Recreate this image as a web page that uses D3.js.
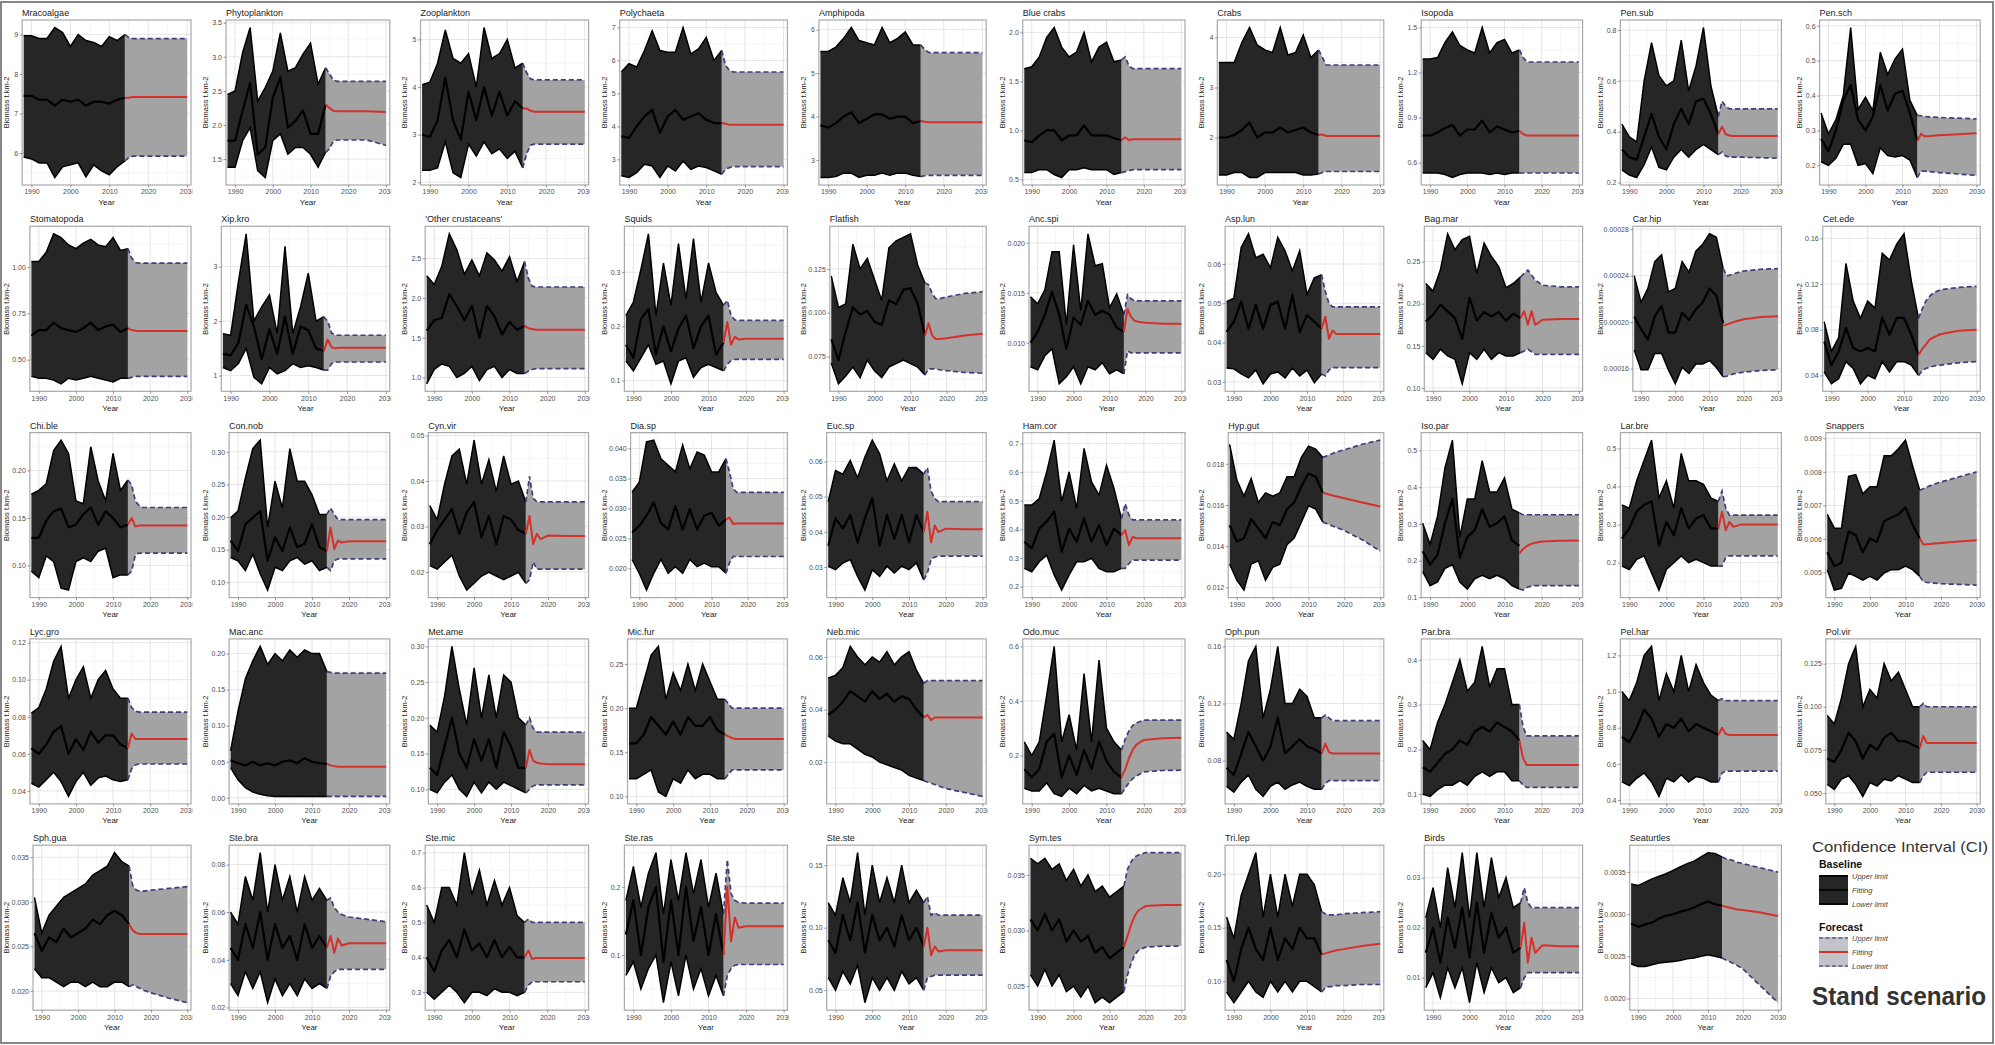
<!DOCTYPE html>
<html><head><meta charset="utf-8">
<script src="https://cdn.jsdelivr.net/npm/d3@7"></script>
<style>body{margin:0;background:#fff}svg{display:block}text{font-family:"Liberation Sans",Arial,sans-serif}</style>
</head><body><svg id="c" width="1995" height="1045"></svg>
<script>
const panelNames = ["Mracoalgae","Phytoplankton","Zooplankton","Polychaeta","Amphipoda","Blue crabs","Crabs","Isopoda","Pen.sub","Pen.sch",
"Stomatopoda","Xip.kro","'Other crustaceans'","Squids","Flatfish","Anc.spi","Asp.lun","Bag.mar","Car.hip","Cet.ede",
"Chi.ble","Con.nob","Cyn.vir","Dia.sp","Euc.sp","Ham.cor","Hyp.gut","Iso.par","Lar.bre","Snappers",
"Lyc.gro","Mac.anc","Met.ame","Mic.fur","Neb.mic","Odo.muc","Oph.pun","Par.bra","Pel.har","Pol.vir",
"Sph.gua","Ste.bra","Ste.mic","Ste.ras","Ste.ste","Sym.tes","Tri.lep","Birds","Seaturtles"];
const baseYears = [1988,1990,1992,1994,1996,1998,2000,2002,2004,2006,2008,2010,2012,2014];
const fcYears = [2014,2015,2016,2017,2018,2020,2025,2030];
const xTicks = [1990,2000,2010,2020,2030];
const yTickLabels = [
["6","7","8","9"],["1.5","2.0","2.5","3.0","3.5"],["2","3","4","5"],["3","4","5","6","7"],["3","4","5","6"],["0.5","1.0","1.5","2.0"],["1","2","3","4"],["0.6","0.9","1.2","1.5"],["0.2","0.4","0.6","0.8"],["0.2","0.3","0.4","0.5","0.6"],
["0.50","0.75","1.00"],["1","2","3"],["1.0","1.5","2.0","2.5"],["0.1","0.2","0.3"],["0.075","0.100","0.125","0.150"],["0.005","0.010","0.015","0.020"],["0.03","0.04","0.05","0.06","0.07"],["0.10","0.15","0.20","0.25"],["0.00016","0.00020","0.00024","0.00028"],["0.04","0.08","0.12","0.16"],
["0.10","0.15","0.20"],["0.10","0.15","0.20","0.25","0.30"],["0.02","0.03","0.04","0.05"],["0.015","0.020","0.025","0.030","0.035","0.040"],["0.02","0.03","0.04","0.05","0.06","0.07"],["0.2","0.3","0.4","0.5","0.6","0.7"],["0.012","0.014","0.016","0.018"],["0.1","0.2","0.3","0.4","0.5"],["0.2","0.3","0.4","0.5"],["0.004","0.005","0.006","0.007","0.008","0.009"],
["0.04","0.06","0.08","0.10","0.12"],["0.00","0.05","0.10","0.15","0.20"],["0.10","0.15","0.20","0.25","0.30"],["0.10","0.15","0.20","0.25"],["0.02","0.04","0.06"],["0.2","0.4","0.6"],["0.08","0.12","0.16"],["0.1","0.2","0.3","0.4"],["0.4","0.6","0.8","1.0","1.2"],["0.050","0.075","0.100","0.125"],
["0.020","0.025","0.030","0.035"],["0.02","0.04","0.06","0.08"],["0.3","0.4","0.5","0.6","0.7"],["0.1","0.2"],["0.05","0.10","0.15"],["0.025","0.030","0.035"],["0.10","0.15","0.20"],["0.01","0.02","0.03"],["0.0020","0.0025","0.0030","0.0035"]
];
const baseFit = [
[7.45,7.45,7.35,7.35,7.2,7.35,7.3,7.35,7.2,7.3,7.3,7.25,7.35,7.4],
[1.77,1.77,2.21,2.62,1.57,1.67,2.4,2.7,1.96,2.06,2.21,1.87,1.87,2.3],
[3.0,2.95,3.3,4.2,3.3,2.9,3.9,3.3,4.0,3.4,3.9,3.4,3.7,3.55],
[3.7,3.65,4.0,4.3,4.5,3.8,4.3,4.5,4.2,4.3,4.4,4.2,4.1,4.1],
[3.8,3.75,3.85,4.0,4.1,3.85,3.95,4.05,4.05,3.95,4.0,4.0,3.85,3.9],
[0.9,0.88,0.95,1.0,1.0,0.9,0.95,0.95,1.05,0.95,0.95,0.95,0.92,0.9],
[2.0,2.0,2.05,2.15,2.3,2.0,2.1,2.1,2.2,2.1,2.15,2.2,2.1,2.05],
[0.78,0.78,0.8,0.83,0.85,0.78,0.82,0.82,0.88,0.8,0.84,0.82,0.8,0.81],
[0.33,0.3,0.29,0.38,0.47,0.38,0.33,0.43,0.49,0.43,0.52,0.53,0.47,0.39],
[0.276,0.24,0.3,0.386,0.43,0.33,0.3,0.34,0.43,0.357,0.405,0.414,0.35,0.27],
[0.63,0.66,0.66,0.7,0.67,0.66,0.65,0.67,0.7,0.66,0.68,0.69,0.65,0.67],
[1.4,1.37,1.6,2.3,1.9,1.3,1.85,1.4,2.08,1.4,1.9,1.83,1.5,1.45],
[1.59,1.72,1.75,2.05,1.9,1.72,1.9,1.5,1.9,1.77,1.54,1.7,1.6,1.65],
[0.166,0.142,0.214,0.232,0.148,0.2,0.154,0.196,0.22,0.16,0.2,0.22,0.148,0.17],
[0.085,0.073,0.089,0.103,0.099,0.101,0.095,0.093,0.107,0.105,0.113,0.114,0.105,0.087],
[0.010,0.0111,0.0128,0.0151,0.0128,0.0094,0.0125,0.0118,0.0142,0.0128,0.0132,0.0128,0.0115,0.0111],
[0.0427,0.0453,0.0504,0.0435,0.0496,0.0435,0.0496,0.0504,0.0435,0.0522,0.0427,0.047,0.0453,0.0435],
[0.179,0.187,0.199,0.191,0.183,0.158,0.207,0.18,0.19,0.185,0.19,0.18,0.188,0.183],
[20.5e-5,19.4e-5,18.5e-5,20.5e-5,21.4e-5,19.1e-5,19.1e-5,20.8e-5,20.2e-5,21.1e-5,21.7e-5,22.9e-5,22.3e-5,19.9e-5],
[0.0696,0.049,0.061,0.0815,0.064,0.061,0.064,0.061,0.0904,0.0756,0.0904,0.0904,0.0756,0.0578],
[0.129,0.129,0.147,0.157,0.16,0.14,0.143,0.154,0.161,0.143,0.157,0.15,0.14,0.143],
[0.164,0.148,0.189,0.199,0.209,0.133,0.169,0.148,0.184,0.154,0.159,0.189,0.154,0.148],
[0.0261,0.0292,0.0315,0.0338,0.0284,0.0331,0.0354,0.0276,0.0323,0.0261,0.0323,0.0315,0.0292,0.0284],
[0.026,0.0271,0.0288,0.031,0.0276,0.0265,0.0304,0.0265,0.0299,0.0265,0.0288,0.0293,0.0271,0.0282],
[0.036,0.0438,0.0409,0.0448,0.037,0.0438,0.0496,0.036,0.0448,0.038,0.0448,0.037,0.0448,0.0399],
[0.357,0.334,0.403,0.427,0.462,0.322,0.403,0.357,0.438,0.357,0.415,0.345,0.403,0.38],
[0.01502,0.01423,0.01439,0.01533,0.01486,0.01439,0.01517,0.01502,0.0158,0.01612,0.0169,0.01753,0.01737,0.01659],
[0.226,0.189,0.217,0.302,0.368,0.208,0.264,0.283,0.34,0.292,0.302,0.321,0.255,0.24],
[0.263,0.29,0.334,0.352,0.361,0.245,0.307,0.272,0.343,0.29,0.316,0.325,0.29,0.29],
[0.0056,0.00519,0.00529,0.00622,0.00611,0.0056,0.00601,0.00591,0.00653,0.00663,0.00673,0.00694,0.00642,0.00601],
[0.063,0.06,0.065,0.072,0.075,0.06,0.068,0.062,0.072,0.066,0.07,0.07,0.065,0.063],
[0.052,0.048,0.045,0.05,0.045,0.048,0.045,0.05,0.052,0.048,0.055,0.05,0.048,0.047],
[0.13,0.12,0.16,0.2,0.15,0.13,0.17,0.14,0.17,0.13,0.18,0.16,0.13,0.13],
[0.16,0.16,0.17,0.19,0.18,0.17,0.185,0.17,0.19,0.18,0.18,0.19,0.175,0.17],
[0.038,0.04,0.043,0.047,0.045,0.043,0.047,0.044,0.046,0.043,0.045,0.044,0.04,0.037],
[0.15,0.12,0.15,0.25,0.28,0.12,0.2,0.13,0.22,0.15,0.25,0.18,0.14,0.12],
[0.075,0.07,0.085,0.1,0.09,0.08,0.09,0.11,0.085,0.09,0.095,0.09,0.088,0.085],
[0.16,0.15,0.17,0.19,0.2,0.22,0.21,0.24,0.25,0.24,0.26,0.25,0.24,0.22],
[0.75,0.72,0.8,0.9,0.85,0.75,0.82,0.8,0.85,0.78,0.82,0.8,0.78,0.76],
[0.07,0.068,0.075,0.085,0.08,0.07,0.078,0.075,0.082,0.085,0.08,0.08,0.078,0.076],
[0.0265,0.0245,0.026,0.0255,0.027,0.026,0.0265,0.027,0.028,0.0275,0.0285,0.029,0.0285,0.0275],
[0.045,0.04,0.055,0.045,0.06,0.04,0.055,0.045,0.05,0.04,0.055,0.045,0.05,0.045],
[0.4,0.36,0.42,0.45,0.4,0.48,0.42,0.44,0.4,0.45,0.4,0.43,0.4,0.4],
[0.13,0.18,0.1,0.17,0.2,0.09,0.18,0.1,0.2,0.12,0.17,0.1,0.16,0.1],
[0.09,0.08,0.11,0.09,0.12,0.08,0.11,0.09,0.1,0.085,0.11,0.09,0.1,0.085],
[0.031,0.03,0.0315,0.03,0.031,0.029,0.03,0.029,0.0295,0.028,0.0285,0.0275,0.028,0.0285],
[0.12,0.1,0.13,0.15,0.13,0.12,0.15,0.12,0.14,0.13,0.15,0.14,0.14,0.125],
[0.015,0.02,0.013,0.022,0.016,0.024,0.014,0.025,0.015,0.023,0.018,0.02,0.015,0.016],
[0.00289,0.00285,0.00288,0.0029,0.00295,0.00298,0.003,0.00303,0.00305,0.00308,0.00312,0.00315,0.00312,0.0031]
];
const baseUpper = [
[8.97,8.97,8.9,8.9,9.18,9.05,8.7,9.0,8.85,8.8,8.7,8.95,8.85,9.0],
[2.45,2.5,3.06,3.43,2.35,2.55,2.79,3.35,2.79,2.84,3.04,3.2,2.6,2.84],
[4.05,4.1,4.5,5.2,4.6,4.5,4.7,4.0,5.25,4.6,4.7,5.0,4.4,4.5],
[5.65,5.9,5.8,6.3,6.9,6.3,6.25,6.25,7.0,6.2,6.35,6.7,6.0,6.3],
[5.5,5.5,5.6,5.8,6.05,5.75,5.7,5.65,6.05,5.7,5.8,5.95,5.65,5.65],
[1.63,1.65,1.75,1.95,2.05,1.85,1.75,1.8,2.0,1.7,1.85,1.9,1.7,1.72],
[3.5,3.5,3.5,3.9,4.2,3.85,3.75,3.7,4.2,3.65,3.7,4.05,3.6,3.75],
[1.29,1.29,1.3,1.4,1.47,1.38,1.35,1.33,1.5,1.33,1.4,1.42,1.33,1.35],
[0.43,0.38,0.36,0.6,0.75,0.62,0.58,0.6,0.76,0.56,0.66,0.81,0.58,0.46],
[0.35,0.29,0.33,0.4,0.595,0.36,0.395,0.357,0.524,0.46,0.505,0.533,0.386,0.343],
[1.03,1.03,1.08,1.18,1.16,1.12,1.1,1.13,1.15,1.12,1.11,1.16,1.09,1.1],
[1.77,1.74,2.72,3.6,2.0,2.26,2.48,1.77,3.37,1.77,2.26,2.88,2.0,2.08],
[2.28,2.17,2.4,2.81,2.61,2.3,2.48,2.28,2.57,2.48,2.34,2.52,2.21,2.46],
[0.22,0.245,0.305,0.371,0.22,0.317,0.239,0.353,0.25,0.362,0.245,0.317,0.263,0.239],
[0.121,0.103,0.105,0.139,0.125,0.131,0.119,0.107,0.137,0.141,0.143,0.145,0.127,0.117],
[0.0146,0.0139,0.0153,0.0191,0.0191,0.0118,0.0198,0.0132,0.0209,0.0177,0.0179,0.0135,0.0149,0.0128],
[0.0504,0.0513,0.0642,0.0677,0.0616,0.0625,0.059,0.0668,0.0634,0.0582,0.0634,0.0522,0.0565,0.0573],
[0.224,0.215,0.24,0.283,0.264,0.276,0.28,0.236,0.272,0.256,0.244,0.219,0.224,0.232],
[24.0e-5,21.7e-5,22.9e-5,25.2e-5,25.8e-5,22.6e-5,22.9e-5,25.2e-5,24.3e-5,26.1e-5,26.7e-5,27.6e-5,27.3e-5,24.6e-5],
[0.087,0.061,0.073,0.138,0.105,0.09,0.105,0.099,0.147,0.141,0.155,0.164,0.123,0.09],
[0.175,0.179,0.186,0.221,0.232,0.218,0.168,0.165,0.225,0.189,0.168,0.218,0.179,0.19],
[0.199,0.209,0.26,0.305,0.318,0.184,0.255,0.214,0.305,0.255,0.255,0.234,0.204,0.204],
[0.0346,0.0315,0.0393,0.0455,0.047,0.0393,0.049,0.0393,0.0447,0.0377,0.0455,0.0393,0.04,0.0354],
[0.0327,0.0344,0.0411,0.0414,0.0383,0.0372,0.0361,0.0406,0.0366,0.0394,0.0389,0.0361,0.0361,0.0383],
[0.0486,0.0574,0.0564,0.0603,0.0554,0.0613,0.0661,0.0622,0.0545,0.0593,0.0545,0.0583,0.0583,0.0564],
[0.485,0.485,0.508,0.601,0.712,0.497,0.601,0.473,0.683,0.566,0.52,0.624,0.543,0.438],
[0.01894,0.01721,0.01643,0.01729,0.01612,0.01659,0.01643,0.01659,0.01737,0.01737,0.01831,0.01886,0.01871,0.01831],
[0.302,0.245,0.321,0.453,0.528,0.264,0.368,0.368,0.472,0.387,0.387,0.425,0.34,0.33],
[0.352,0.343,0.415,0.469,0.522,0.37,0.415,0.343,0.487,0.415,0.415,0.406,0.37,0.361],
[0.00673,0.00632,0.00632,0.00787,0.00792,0.00735,0.00756,0.00756,0.00848,0.00848,0.00869,0.00895,0.00818,0.00745],
[0.082,0.085,0.095,0.11,0.118,0.09,0.1,0.107,0.09,0.1,0.105,0.095,0.09,0.09],
[0.065,0.12,0.165,0.19,0.21,0.185,0.2,0.19,0.205,0.195,0.205,0.2,0.2,0.175],
[0.19,0.18,0.23,0.3,0.24,0.19,0.27,0.2,0.26,0.2,0.26,0.25,0.2,0.19],
[0.2,0.2,0.23,0.26,0.27,0.21,0.24,0.22,0.25,0.22,0.25,0.23,0.21,0.21],
[0.052,0.053,0.056,0.064,0.06,0.057,0.06,0.058,0.062,0.057,0.06,0.062,0.055,0.05],
[0.25,0.2,0.25,0.42,0.6,0.25,0.35,0.22,0.5,0.25,0.55,0.3,0.25,0.22],
[0.1,0.095,0.12,0.15,0.16,0.11,0.13,0.16,0.12,0.12,0.13,0.125,0.11,0.11],
[0.22,0.2,0.26,0.3,0.35,0.4,0.33,0.35,0.43,0.34,0.38,0.38,0.3,0.3],
[1.0,0.95,1.05,1.2,1.25,0.95,1.1,1.0,1.2,1.0,1.15,1.05,0.98,0.95],
[0.095,0.09,0.105,0.125,0.135,0.1,0.11,0.105,0.125,0.115,0.12,0.11,0.1,0.1],
[0.0305,0.0265,0.0285,0.0295,0.0305,0.031,0.0315,0.032,0.033,0.0335,0.034,0.0355,0.0345,0.034],
[0.06,0.055,0.075,0.065,0.085,0.06,0.08,0.065,0.075,0.06,0.075,0.065,0.07,0.065],
[0.55,0.5,0.6,0.6,0.55,0.7,0.58,0.65,0.55,0.62,0.55,0.6,0.52,0.5],
[0.18,0.23,0.17,0.22,0.25,0.16,0.24,0.18,0.25,0.19,0.24,0.17,0.22,0.16],
[0.12,0.11,0.14,0.12,0.16,0.11,0.15,0.12,0.14,0.12,0.15,0.12,0.13,0.12],
[0.0365,0.036,0.0365,0.0355,0.036,0.0345,0.0355,0.034,0.035,0.0335,0.034,0.033,0.0335,0.034],
[0.16,0.14,0.18,0.2,0.22,0.16,0.2,0.16,0.2,0.17,0.2,0.2,0.19,0.165],
[0.022,0.028,0.02,0.032,0.024,0.035,0.022,0.035,0.024,0.034,0.026,0.03,0.024,0.025],
[0.00336,0.00334,0.00338,0.00342,0.00345,0.00348,0.00352,0.00356,0.0036,0.00363,0.00368,0.00373,0.00372,0.00368]
];
const baseLower = [
[5.9,5.85,5.75,5.75,5.38,5.65,5.7,5.75,5.4,5.7,5.55,5.45,5.65,5.8],
[1.38,1.38,1.77,1.96,1.33,1.23,1.77,1.87,1.57,1.67,1.67,1.57,1.38,1.6],
[2.25,2.25,2.3,2.85,2.2,2.1,2.8,2.55,2.85,2.6,2.7,2.5,2.65,2.3],
[2.5,2.45,2.6,2.85,2.8,2.45,2.8,2.65,2.95,2.7,2.8,2.75,2.65,2.55],
[2.6,2.6,2.62,2.7,2.7,2.6,2.65,2.65,2.7,2.65,2.7,2.7,2.65,2.62],
[0.57,0.57,0.6,0.6,0.55,0.52,0.6,0.6,0.62,0.6,0.6,0.6,0.55,0.57],
[1.25,1.25,1.3,1.3,1.2,1.2,1.3,1.3,1.3,1.3,1.3,1.25,1.25,1.27],
[0.53,0.53,0.53,0.52,0.5,0.52,0.53,0.53,0.53,0.52,0.53,0.52,0.53,0.53],
[0.25,0.23,0.22,0.27,0.34,0.26,0.25,0.3,0.33,0.3,0.33,0.35,0.33,0.31],
[0.21,0.2,0.22,0.26,0.26,0.2,0.205,0.176,0.25,0.228,0.224,0.228,0.215,0.165],
[0.41,0.4,0.4,0.39,0.37,0.4,0.39,0.4,0.41,0.4,0.39,0.38,0.4,0.4],
[1.15,1.09,1.22,1.5,0.97,0.85,1.15,1.03,1.09,1.22,1.15,1.18,1.15,1.1],
[0.92,1.1,1.17,1.14,1.0,1.05,1.14,0.96,1.1,1.14,1.0,1.1,1.05,1.05],
[0.136,0.118,0.142,0.166,0.13,0.136,0.094,0.136,0.142,0.106,0.124,0.13,0.124,0.118],
[0.0714,0.0595,0.064,0.069,0.063,0.073,0.067,0.063,0.069,0.071,0.073,0.071,0.069,0.0645],
[0.0076,0.0073,0.0087,0.0094,0.0059,0.0066,0.0076,0.0059,0.0076,0.0073,0.008,0.0069,0.0073,0.0069],
[0.0335,0.0333,0.032,0.031,0.033,0.0295,0.032,0.0325,0.031,0.0335,0.0315,0.033,0.0298,0.032],
[0.142,0.134,0.146,0.138,0.134,0.105,0.142,0.134,0.146,0.134,0.142,0.138,0.138,0.142],
[17.6e-5,15.9e-5,15.9e-5,17.3e-5,17.3e-5,15.9e-5,14.7e-5,16.1e-5,15.6e-5,16.4e-5,16.4e-5,16.7e-5,16.1e-5,15.3e-5],
[0.043,0.0326,0.037,0.052,0.046,0.0326,0.04,0.037,0.052,0.043,0.052,0.052,0.049,0.04],
[0.094,0.087,0.11,0.104,0.076,0.074,0.104,0.108,0.104,0.115,0.118,0.087,0.09,0.09],
[0.138,0.133,0.118,0.143,0.113,0.088,0.123,0.118,0.133,0.138,0.128,0.133,0.118,0.123],
[0.0214,0.0206,0.0222,0.0237,0.0191,0.016,0.0175,0.0191,0.0199,0.0191,0.0183,0.0191,0.0199,0.0175],
[0.0215,0.0192,0.0164,0.0192,0.0215,0.0192,0.0203,0.0192,0.0215,0.0203,0.0209,0.0203,0.0203,0.0192],
[0.0302,0.0292,0.0311,0.0321,0.0273,0.0234,0.0292,0.0273,0.0302,0.0283,0.0302,0.0292,0.0311,0.0263],
[0.264,0.252,0.287,0.31,0.241,0.188,0.241,0.287,0.287,0.299,0.264,0.252,0.252,0.264],
[0.01313,0.01235,0.01187,0.01313,0.01329,0.01235,0.01297,0.01313,0.01407,0.01439,0.01517,0.01596,0.0158,0.01517],
[0.17,0.132,0.142,0.179,0.189,0.142,0.123,0.151,0.16,0.151,0.16,0.151,0.132,0.123],
[0.191,0.182,0.209,0.218,0.173,0.128,0.182,0.2,0.218,0.2,0.209,0.2,0.191,0.191],
[0.00508,0.00447,0.00452,0.00498,0.00488,0.00477,0.00488,0.00477,0.00498,0.00508,0.00508,0.00519,0.00508,0.00488],
[0.044,0.042,0.046,0.05,0.045,0.037,0.045,0.05,0.043,0.047,0.048,0.046,0.045,0.046],
[0.042,0.025,0.014,0.008,0.005,0.003,0.002,0.002,0.002,0.002,0.002,0.002,0.002,0.002],
[0.1,0.095,0.11,0.12,0.1,0.09,0.11,0.095,0.11,0.1,0.11,0.105,0.1,0.095],
[0.12,0.12,0.125,0.13,0.105,0.1,0.12,0.115,0.13,0.12,0.125,0.125,0.12,0.12],
[0.03,0.028,0.027,0.027,0.025,0.023,0.022,0.02,0.019,0.018,0.017,0.015,0.014,0.013],
[0.08,0.07,0.07,0.1,0.06,0.05,0.08,0.06,0.09,0.07,0.08,0.07,0.06,0.06],
[0.062,0.058,0.065,0.07,0.06,0.055,0.062,0.065,0.06,0.063,0.065,0.062,0.06,0.06],
[0.1,0.095,0.11,0.12,0.12,0.13,0.12,0.14,0.15,0.14,0.15,0.15,0.13,0.13],
[0.5,0.48,0.52,0.55,0.5,0.42,0.52,0.5,0.54,0.5,0.53,0.52,0.5,0.5],
[0.055,0.052,0.058,0.06,0.055,0.048,0.056,0.054,0.058,0.057,0.06,0.058,0.056,0.056],
[0.0225,0.0215,0.0215,0.021,0.0205,0.021,0.021,0.0205,0.021,0.0205,0.0205,0.021,0.021,0.0205],
[0.03,0.025,0.035,0.028,0.035,0.022,0.032,0.025,0.03,0.025,0.032,0.028,0.03,0.028],
[0.3,0.28,0.3,0.32,0.3,0.27,0.3,0.3,0.29,0.31,0.3,0.3,0.29,0.3],
[0.07,0.09,0.05,0.08,0.1,0.03,0.09,0.04,0.1,0.05,0.08,0.04,0.07,0.04],
[0.06,0.05,0.065,0.055,0.07,0.04,0.06,0.05,0.06,0.05,0.065,0.055,0.06,0.05],
[0.026,0.025,0.0265,0.025,0.026,0.0245,0.025,0.024,0.025,0.0235,0.024,0.0235,0.024,0.0245],
[0.09,0.08,0.09,0.1,0.09,0.085,0.1,0.09,0.1,0.09,0.1,0.1,0.095,0.09],
[0.008,0.011,0.006,0.012,0.008,0.012,0.005,0.013,0.007,0.012,0.009,0.01,0.007,0.008],
[0.00241,0.00238,0.00238,0.0024,0.00242,0.00243,0.00244,0.00245,0.00247,0.00248,0.0025,0.00252,0.0025,0.00248]
];
const fcFit = [
[7.4,7.4,7.42,7.42,7.42,7.42,7.42,7.42],
[2.3,2.25,2.21,2.2,2.2,2.2,2.2,2.19],
[3.55,3.55,3.5,3.48,3.48,3.48,3.48,3.48],
[4.1,4.08,4.05,4.05,4.05,4.05,4.05,4.05],
[3.9,3.88,3.87,3.87,3.87,3.87,3.87,3.87],
[0.9,0.93,0.9,0.91,0.91,0.91,0.91,0.91],
[2.05,2.06,2.03,2.03,2.03,2.03,2.03,2.03],
[0.81,0.79,0.78,0.78,0.78,0.78,0.78,0.78],
[0.39,0.42,0.39,0.385,0.383,0.383,0.383,0.383],
[0.27,0.29,0.283,0.283,0.285,0.286,0.289,0.292],
[0.67,0.66,0.657,0.655,0.655,0.655,0.655,0.655],
[1.45,1.66,1.52,1.5,1.51,1.51,1.51,1.51],
[1.65,1.62,1.61,1.6,1.6,1.6,1.6,1.6],
[0.17,0.208,0.166,0.181,0.176,0.177,0.177,0.177],
[0.087,0.094,0.087,0.085,0.085,0.0855,0.087,0.088],
[0.0111,0.0134,0.0126,0.0122,0.0121,0.012,0.0119,0.0119],
[0.0435,0.0466,0.041,0.0431,0.0422,0.0422,0.0422,0.0422],
[0.183,0.191,0.175,0.191,0.175,0.181,0.182,0.182],
[19.7e-5,19.8e-5,19.9e-5,20.0e-5,20.1e-5,20.25e-5,20.45e-5,20.5e-5],
[0.0578,0.063,0.067,0.071,0.073,0.076,0.079,0.08],
[0.143,0.15,0.141,0.142,0.142,0.142,0.142,0.142],
[0.148,0.184,0.151,0.164,0.161,0.163,0.163,0.163],
[0.0284,0.0323,0.0261,0.0284,0.0272,0.028,0.0279,0.0279],
[0.0282,0.0285,0.0274,0.0275,0.0275,0.0275,0.0275,0.0275],
[0.0399,0.0457,0.037,0.0418,0.0399,0.0409,0.0407,0.0407],
[0.38,0.398,0.345,0.374,0.369,0.369,0.369,0.369],
[0.01659,0.01655,0.0165,0.01645,0.01641,0.01633,0.01612,0.01593],
[0.22,0.232,0.24,0.245,0.248,0.252,0.254,0.255],
[0.29,0.334,0.285,0.307,0.294,0.3,0.3,0.3],
[0.00601,0.00583,0.00584,0.00585,0.00586,0.00588,0.00592,0.00596],
[0.063,0.071,0.068,0.068,0.068,0.068,0.068,0.068],
[0.047,0.045,0.044,0.043,0.043,0.043,0.043,0.043],
[0.13,0.155,0.14,0.137,0.136,0.135,0.135,0.135],
[0.17,0.168,0.166,0.165,0.165,0.165,0.165,0.165],
[0.037,0.038,0.036,0.037,0.037,0.037,0.037,0.037],
[0.12,0.15,0.19,0.22,0.24,0.257,0.263,0.265],
[0.085,0.092,0.086,0.085,0.085,0.085,0.085,0.085],
[0.22,0.18,0.165,0.165,0.165,0.165,0.165,0.165],
[0.76,0.8,0.765,0.76,0.76,0.76,0.76,0.76],
[0.076,0.083,0.079,0.079,0.079,0.079,0.079,0.079],
[0.0275,0.0268,0.0265,0.0264,0.0264,0.0264,0.0264,0.0264],
[0.045,0.05,0.043,0.049,0.046,0.047,0.047,0.047],
[0.4,0.42,0.395,0.398,0.398,0.398,0.398,0.398],
[0.1,0.2,0.12,0.155,0.14,0.142,0.142,0.142],
[0.085,0.1,0.078,0.085,0.081,0.082,0.082,0.082],
[0.0285,0.0295,0.0305,0.0313,0.0318,0.0322,0.0323,0.0323],
[0.125,0.126,0.127,0.128,0.129,0.13,0.133,0.135],
[0.016,0.021,0.013,0.018,0.015,0.0165,0.0163,0.0163],
[0.0031,0.00309,0.00308,0.00307,0.00306,0.00305,0.00302,0.00298]
];
const fcUpper = [
[9.0,8.93,8.9,8.9,8.9,8.9,8.9,8.9],
[2.84,2.75,2.66,2.64,2.64,2.64,2.64,2.64],
[4.5,4.3,4.17,4.15,4.15,4.15,4.15,4.15],
[6.3,5.85,5.7,5.65,5.65,5.65,5.65,5.65],
[5.65,5.55,5.48,5.47,5.47,5.47,5.47,5.47],
[1.72,1.75,1.66,1.63,1.63,1.63,1.63,1.63],
[3.75,3.6,3.45,3.45,3.45,3.45,3.45,3.45],
[1.35,1.3,1.27,1.27,1.27,1.27,1.27,1.27],
[0.46,0.52,0.5,0.49,0.49,0.49,0.49,0.49],
[0.343,0.342,0.34,0.339,0.338,0.337,0.335,0.333],
[1.1,1.05,1.025,1.022,1.022,1.022,1.022,1.022],
[2.08,2.0,1.78,1.74,1.74,1.74,1.74,1.74],
[2.46,2.25,2.15,2.14,2.14,2.14,2.14,2.14],
[0.239,0.248,0.22,0.212,0.211,0.211,0.211,0.211],
[0.117,0.116,0.111,0.108,0.108,0.109,0.111,0.112],
[0.0128,0.0148,0.0144,0.0142,0.0142,0.0142,0.0142,0.0142],
[0.0573,0.053,0.05,0.0491,0.0491,0.0491,0.0491,0.0491],
[0.232,0.236,0.24,0.234,0.228,0.222,0.22,0.22],
[24.6e-5,24.0e-5,24.05e-5,24.15e-5,24.25e-5,24.4e-5,24.55e-5,24.6e-5],
[0.09,0.098,0.105,0.109,0.112,0.115,0.117,0.118],
[0.19,0.185,0.168,0.163,0.161,0.161,0.161,0.161],
[0.204,0.214,0.204,0.196,0.196,0.196,0.196,0.196],
[0.0354,0.041,0.0362,0.0354,0.0354,0.0354,0.0354,0.0354],
[0.0383,0.036,0.0333,0.0327,0.0327,0.0327,0.0327,0.0327],
[0.0564,0.0583,0.0516,0.0495,0.0486,0.0486,0.0486,0.0486],
[0.438,0.49,0.45,0.433,0.433,0.433,0.433,0.433],
[0.01831,0.01838,0.01845,0.01852,0.01858,0.01868,0.01895,0.01915],
[0.33,0.325,0.325,0.325,0.325,0.325,0.325,0.325],
[0.361,0.388,0.343,0.325,0.325,0.325,0.325,0.325],
[0.00745,0.0075,0.00755,0.00759,0.00763,0.0077,0.00785,0.008],
[0.09,0.085,0.083,0.0825,0.0825,0.0825,0.0825,0.0825],
[0.175,0.174,0.173,0.173,0.173,0.173,0.173,0.173],
[0.19,0.2,0.185,0.18,0.18,0.18,0.18,0.18],
[0.21,0.205,0.2,0.2,0.2,0.2,0.2,0.2],
[0.05,0.051,0.051,0.051,0.051,0.051,0.051,0.051],
[0.22,0.26,0.29,0.31,0.32,0.33,0.33,0.33],
[0.11,0.112,0.11,0.108,0.108,0.108,0.108,0.108],
[0.3,0.25,0.23,0.23,0.23,0.23,0.23,0.23],
[0.95,0.96,0.95,0.95,0.95,0.95,0.95,0.95],
[0.1,0.102,0.1,0.1,0.1,0.1,0.1,0.1],
[0.034,0.0318,0.0313,0.0312,0.0312,0.0313,0.0315,0.0317],
[0.065,0.066,0.062,0.06,0.059,0.058,0.057,0.056],
[0.5,0.51,0.5,0.5,0.5,0.5,0.5,0.5],
[0.16,0.24,0.19,0.18,0.177,0.176,0.176,0.176],
[0.12,0.125,0.11,0.112,0.11,0.11,0.11,0.11],
[0.034,0.0355,0.0362,0.0366,0.0368,0.037,0.037,0.037],
[0.165,0.163,0.162,0.162,0.162,0.163,0.164,0.165],
[0.025,0.028,0.025,0.024,0.024,0.024,0.024,0.024],
[0.00368,0.00366,0.00365,0.00364,0.00362,0.0036,0.00355,0.0035]
];
const fcLower = [
[5.8,5.88,5.92,5.92,5.92,5.92,5.92,5.92],
[1.6,1.65,1.76,1.78,1.78,1.78,1.78,1.7],
[2.3,2.6,2.78,2.8,2.8,2.8,2.8,2.8],
[2.55,2.7,2.75,2.78,2.78,2.78,2.78,2.78],
[2.62,2.64,2.65,2.65,2.65,2.65,2.65,2.65],
[0.57,0.58,0.59,0.6,0.6,0.6,0.6,0.6],
[1.27,1.3,1.32,1.32,1.32,1.32,1.32,1.32],
[0.53,0.53,0.53,0.53,0.53,0.53,0.53,0.53],
[0.31,0.32,0.305,0.3,0.3,0.3,0.298,0.296],
[0.165,0.183,0.183,0.182,0.181,0.179,0.175,0.171],
[0.4,0.405,0.41,0.41,0.41,0.41,0.41,0.41],
[1.1,1.1,1.22,1.25,1.25,1.25,1.25,1.25],
[1.05,1.08,1.1,1.11,1.11,1.11,1.11,1.11],
[0.118,0.13,0.137,0.139,0.139,0.139,0.139,0.139],
[0.0645,0.068,0.068,0.068,0.0675,0.067,0.066,0.0655],
[0.0069,0.0092,0.009,0.009,0.009,0.009,0.009,0.009],
[0.032,0.0315,0.033,0.0336,0.0336,0.0336,0.0336,0.0336],
[0.142,0.144,0.146,0.143,0.14,0.14,0.14,0.14],
[15.3e-5,15.35e-5,15.45e-5,15.55e-5,15.6e-5,15.7e-5,15.85e-5,15.9e-5],
[0.04,0.044,0.046,0.047,0.048,0.049,0.051,0.052],
[0.09,0.094,0.111,0.113,0.113,0.113,0.113,0.113],
[0.123,0.118,0.133,0.136,0.136,0.136,0.136,0.136],
[0.0175,0.0183,0.0222,0.0206,0.0206,0.0206,0.0206,0.0206],
[0.0192,0.021,0.022,0.022,0.022,0.022,0.022,0.022],
[0.0263,0.0283,0.0321,0.0328,0.0331,0.0331,0.0331,0.0331],
[0.264,0.264,0.281,0.293,0.293,0.293,0.293,0.293],
[0.01517,0.0151,0.01503,0.01496,0.01489,0.01476,0.01431,0.01376],
[0.123,0.12,0.127,0.13,0.132,0.132,0.132,0.132],
[0.191,0.191,0.214,0.218,0.218,0.218,0.218,0.218],
[0.00488,0.00472,0.0047,0.00469,0.00468,0.00466,0.00464,0.00462],
[0.046,0.052,0.054,0.0545,0.0545,0.0545,0.0545,0.0545],
[0.002,0.002,0.002,0.002,0.002,0.002,0.002,0.002],
[0.095,0.1,0.105,0.106,0.106,0.106,0.106,0.106],
[0.12,0.125,0.13,0.13,0.13,0.13,0.13,0.13],
[0.013,0.0125,0.012,0.0115,0.011,0.01,0.0085,0.007],
[0.06,0.08,0.1,0.115,0.125,0.14,0.145,0.146],
[0.06,0.064,0.066,0.066,0.066,0.066,0.066,0.066],
[0.13,0.12,0.115,0.115,0.115,0.115,0.115,0.115],
[0.5,0.55,0.56,0.56,0.56,0.56,0.56,0.56],
[0.056,0.06,0.062,0.062,0.062,0.062,0.062,0.062],
[0.0205,0.0207,0.0205,0.0203,0.0201,0.0198,0.0192,0.0187],
[0.028,0.033,0.035,0.036,0.036,0.036,0.036,0.036],
[0.3,0.32,0.33,0.33,0.33,0.33,0.33,0.33],
[0.04,0.07,0.08,0.085,0.086,0.086,0.086,0.086],
[0.05,0.06,0.061,0.062,0.062,0.062,0.062,0.062],
[0.0245,0.026,0.027,0.0278,0.0282,0.0285,0.0286,0.0286],
[0.09,0.094,0.095,0.095,0.096,0.096,0.097,0.097],
[0.008,0.01,0.011,0.011,0.011,0.011,0.011,0.011],
[0.00248,0.00246,0.00244,0.00242,0.0024,0.00235,0.00215,0.00195]
];
const legendTitle = "Confidence Interval (CI)";
const legendGroups = ["Baseline","Forecast"];
const legendItems = ["Upper limit","Fitting","Lower limit"];
const scenarioLabel = "Stand scenario";

const svg = d3.select("#c");
svg.append("rect").attr("width",1995).attr("height",1045).attr("fill","#fff");
const defs = svg.append("defs");
const ctx = document.createElement("canvas").getContext("2d");
ctx.font = "7px 'Liberation Sans'";

const C = {band:"#262626", fc:"#a3a3a3", dash:"#3e3e7c", red:"#d3312a", grid:"#dedede", minor:"#efefef", border:"#a9a9a9", tick:"#555"};

panelNames.forEach((name, i) => {
  const col = i % 10, row = Math.floor(i / 10);
  const cellX = col * 199.2;
  const top = 20 + row * 206.3, bottom = top + 165;
  const labs = yTickLabels[i];
  const maxW = d3.max(labs, t => ctx.measureText(t).width);
  const left = cellX + 17 + maxW * 0.8 + 2;
  const right = 191 + col * 198.8;
  const lo = d3.min(baseLower[i].concat(fcLower[i]));
  const hi = d3.max(baseUpper[i].concat(fcUpper[i]));
  const pad = (hi - lo) * 0.05;
  const y = d3.scaleLinear().domain([lo - pad, hi + pad]).range([bottom, top]);
  const x = d3.scaleLinear().domain([1987.6, 2031]).range([left, right]);
  const g = svg.append("g");
  if (col < 9 && i !== 48) {
    const id = "clip" + i;
    defs.append("clipPath").attr("id", id).append("rect")
      .attr("x", cellX - 4).attr("y", top - 25).attr("width", right + 1.5 - (cellX - 4)).attr("height", 212);
    g.attr("clip-path", `url(#${id})`);
  }
  const dom = y.domain();
  const tv = labs.map(Number).filter(v => v >= dom[0] && v <= dom[1]);
  const step = labs.length > 1 ? (+labs[1] - +labs[0]) : 0.1;
  const minorY = [];
  labs.map(Number).forEach(v => { [v - step/2, v + step/2].forEach(m => { if (m >= dom[0] && m <= dom[1] && !minorY.some(q => Math.abs(q - m) < step/10)) minorY.push(m); }); });
  const grid = g.append("g");
  [1995,2005,2015,2025].forEach(v => grid.append("line").attr("x1", x(v)).attr("x2", x(v)).attr("y1", top).attr("y2", bottom).attr("stroke", C.minor).attr("stroke-width", 0.6));
  minorY.forEach(v => grid.append("line").attr("x1", left).attr("x2", right).attr("y1", y(v)).attr("y2", y(v)).attr("stroke", C.minor).attr("stroke-width", 0.6));
  xTicks.forEach(v => grid.append("line").attr("x1", x(v)).attr("x2", x(v)).attr("y1", top).attr("y2", bottom).attr("stroke", C.grid).attr("stroke-width", 0.8));
  tv.forEach(v => grid.append("line").attr("x1", left).attr("x2", right).attr("y1", y(v)).attr("y2", y(v)).attr("stroke", C.grid).attr("stroke-width", 0.8));

  const base = baseYears.map((yr, k) => ({yr, f: baseFit[i][k], u: baseUpper[i][k], l: baseLower[i][k]}));
  const fc = fcYears.map((yr, k) => ({yr, f: fcFit[i][k], u: fcUpper[i][k], l: fcLower[i][k]}));
  const area = d3.area().x(d => x(d.yr)).y0(d => y(d.l)).y1(d => y(d.u));
  const lf = d3.line().x(d => x(d.yr)).y(d => y(d.f));
  const lu = d3.line().x(d => x(d.yr)).y(d => y(d.u));
  const ll = d3.line().x(d => x(d.yr)).y(d => y(d.l));
  g.append("path").attr("d", area(fc)).attr("fill", C.fc);
  g.append("path").attr("d", area(base)).attr("fill", C.band);
  g.append("path").attr("d", lu(base)).attr("fill", "none").attr("stroke", "#000").attr("stroke-width", 1.5);
  g.append("path").attr("d", ll(base)).attr("fill", "none").attr("stroke", "#000").attr("stroke-width", 1.5);
  g.append("path").attr("d", lf(base)).attr("fill", "none").attr("stroke", "#000").attr("stroke-width", 2.2).attr("stroke-linejoin", "round");
  g.append("path").attr("d", lu(fc)).attr("fill", "none").attr("stroke", C.dash).attr("stroke-width", 1.7).attr("stroke-dasharray", "5,3");
  g.append("path").attr("d", ll(fc)).attr("fill", "none").attr("stroke", C.dash).attr("stroke-width", 1.7).attr("stroke-dasharray", "5,3");
  g.append("path").attr("d", lf(fc)).attr("fill", "none").attr("stroke", C.red).attr("stroke-width", 2).attr("stroke-linejoin", "round");
  g.append("rect").attr("x", left).attr("y", top).attr("width", right - left).attr("height", bottom - top).attr("fill", "none").attr("stroke", C.border).attr("stroke-width", 1.2);

  const ax = g.append("g").attr("transform", `translate(0,${bottom})`).call(d3.axisBottom(x).tickValues(xTicks).tickFormat(d3.format("d")).tickSize(2.5).tickPadding(2));
  ax.select(".domain").remove();
  ax.selectAll("line").attr("stroke", C.tick).attr("stroke-width", 0.6);
  ax.selectAll("text").attr("font-size", 7).attr("fill", "#4d4d4d").attr("font-family", "Liberation Sans");
  const ay = g.append("g").attr("transform", `translate(${left},0)`).call(d3.axisLeft(y).tickValues(tv).tickFormat(v => labs[labs.map(Number).indexOf(v)]).tickSize(2.5).tickPadding(1.5));
  ay.select(".domain").remove();
  ay.selectAll("line").attr("stroke", C.tick).attr("stroke-width", 0.6);
  ay.selectAll("text").attr("font-size", 7).attr("fill", "#4d4d4d").attr("font-family", "Liberation Sans");

  g.append("text").attr("x", left).attr("y", top - 4).attr("font-size", 9).attr("fill", "#222").text(name);
  g.append("text").attr("x", (left + right) / 2).attr("y", bottom + 19.5).attr("text-anchor", "middle").attr("font-size", 8).attr("fill", "#222").text("Year");
  g.append("text").attr("transform", `translate(${cellX + 9},${(top + bottom) / 2}) rotate(-90)`).attr("text-anchor", "middle").attr("font-size", 7.5).attr("fill", "#222").text("Biomass t.km-2");
});

const L = svg.append("g");
L.append("text").attr("x", 1812).attr("y", 852).attr("font-size", 15).attr("fill", "#333").attr("textLength", 176).attr("lengthAdjust", "spacingAndGlyphs").text(legendTitle);
const groups = [{y0: 875, title: 868}, {y0: 937, title: 931}];
groups.forEach((gp, k) => {
  L.append("text").attr("x", 1819).attr("y", gp.title).attr("font-size", 10.5).attr("font-weight", "bold").attr("fill", "#111").text(legendGroups[k]);
  L.append("rect").attr("x", 1819).attr("y", gp.y0).attr("width", 29).attr("height", 30).attr("fill", k === 0 ? C.band : "#c2c2ca");
  if (k === 0) {
    [gp.y0 + 1, gp.y0 + 15, gp.y0 + 29].forEach(yy => L.append("line").attr("x1", 1819).attr("x2", 1848).attr("y1", yy).attr("y2", yy).attr("stroke", "#000").attr("stroke-width", 1.6));
  } else {
    [gp.y0 + 1, gp.y0 + 29].forEach(yy => L.append("line").attr("x1", 1819).attr("x2", 1848).attr("y1", yy).attr("y2", yy).attr("stroke", "#5a5a8c").attr("stroke-width", 1.6).attr("stroke-dasharray", "4,2.5"));
    L.append("line").attr("x1", 1819).attr("x2", 1848).attr("y1", gp.y0 + 15).attr("y2", gp.y0 + 15).attr("stroke", C.red).attr("stroke-width", 2);
  }
  legendItems.forEach((t, j) => L.append("text").attr("x", 1852).attr("y", gp.y0 + 3.5 + j * 14).attr("font-size", 7.5).attr("font-style", "italic").attr("fill", "#444").text(t));
});
L.append("text").attr("x", 1812).attr("y", 1005).attr("font-size", 25).attr("font-weight", "bold").attr("fill", "#333").attr("textLength", 174).attr("lengthAdjust", "spacingAndGlyphs").text(scenarioLabel);

svg.append("rect").attr("x", 1).attr("y", 2).attr("width", 1992).attr("height", 1041).attr("fill", "none").attr("stroke", "#6a6a6a").attr("stroke-width", 1.6);
</script></body></html>
